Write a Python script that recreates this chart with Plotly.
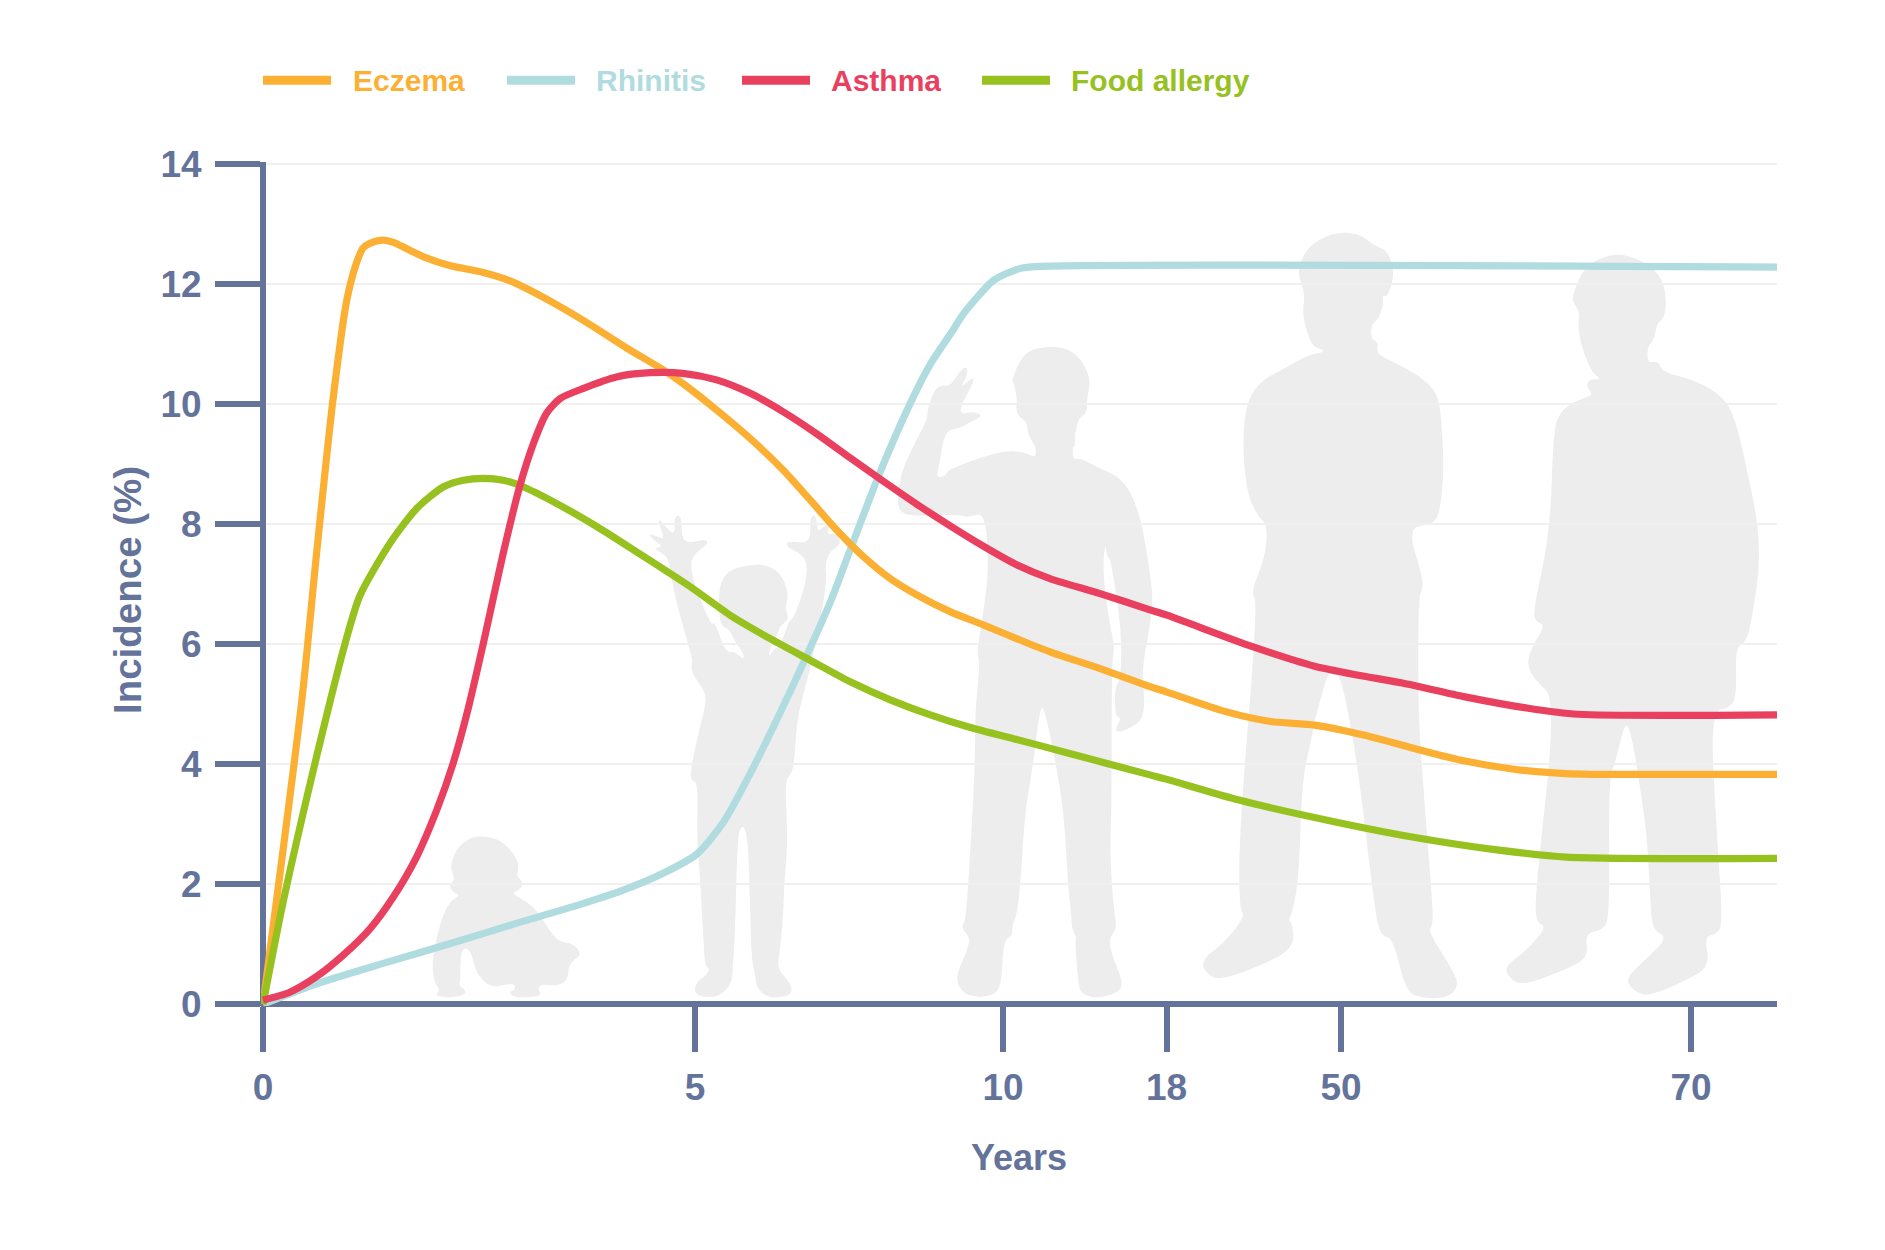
# Incidence of allergic disease by age, drawn on a stretched age axis
import numpy as np
import plotly.graph_objects as go

tick_years = [0, 5, 10, 18, 50, 70, 75]
tick_pos = [0, 432, 740, 903.5, 1078, 1428, 1514]  # axis is not linear in years
y_ticks = [0, 2, 4, 6, 8, 10, 12, 14]

eczema_age = [0, 0.45, 0.62, 0.81, 0.97, 1.08, 1.16, 1.28, 1.39, 1.51, 1.86, 2.17, 2.55, 2.86, 3.24, 3.71, 4.21, 4.63,
              4.86, 5.35, 5.89, 6.43, 6.87, 7.30, 7.73, 8.17, 8.60, 9.14, 9.68, 10.67, 12.30, 14.75, 17.19, 18.09,
              29.02, 37.09, 45.16, 51.36, 54.57, 57.09, 59.98, 62.85, 64.29, 75]
eczema = [0, 5.07, 7.51, 10.07, 11.73, 12.34, 12.6, 12.7, 12.73, 12.69, 12.45, 12.3, 12.19, 12.05, 11.78, 11.39, 10.93, 10.57,
          10.34, 9.9, 9.43, 8.9, 8.4, 7.9, 7.46, 7.09, 6.82, 6.54, 6.32, 6.09, 5.87, 5.59, 5.29, 5.2,
          4.87, 4.71, 4.65, 4.48, 4.23, 4.05, 3.91, 3.84, 3.83, 3.83]

rhinitis_age = [0, 0.62, 1.39, 2.17, 2.94, 3.71, 4.17, 4.63, 5.03, 5.46, 5.95, 6.38, 6.81, 7.19, 7.52, 8.00, 8.49, 8.83,
                9.19, 9.35, 9.85, 10.78, 11.71, 75]
rhinitis = [0, 0.34, 0.68, 1.01, 1.35, 1.68, 1.9, 2.18, 2.5, 3.03, 3.95, 4.85, 5.8, 6.68, 7.57, 8.85, 10.0, 10.68,
            11.23, 11.49, 12.06, 12.25, 12.29, 12.28]

asthma_age = [0, 0.31, 0.62, 0.93, 1.24, 1.51, 1.78, 2.01, 2.20, 2.36, 2.55, 2.78, 2.97, 3.13, 3.28, 3.44, 3.71, 4.09,
              4.48, 4.86, 5.35, 5.89, 6.43, 6.98, 7.52, 8.06, 8.60, 9.14, 9.68, 10.67, 12.30, 14.75, 17.19, 18.09,
              33.64, 45.16, 51.0, 53.51, 57.09, 60.69, 63.55, 75]
asthma = [0.07, 0.2, 0.46, 0.82, 1.26, 1.79, 2.46, 3.23, 4.01, 4.84, 6.01, 7.51, 8.62, 9.34, 9.84, 10.09, 10.26, 10.45,
          10.52, 10.51, 10.4, 10.18, 9.87, 9.5, 9.1, 8.71, 8.33, 7.97, 7.63, 7.32, 7.09, 6.84, 6.57, 6.48,
          5.96, 5.63, 5.48, 5.35, 5.12, 4.93, 4.83, 4.82]

food_age = [0, 0.23, 0.51, 0.76, 0.95, 1.12, 1.47, 1.78, 2.09, 2.32, 2.55, 2.78, 3.01, 3.40, 3.86, 4.33, 4.94, 5.57,
            6.22, 6.87, 7.52, 8.17, 8.82, 9.47, 10.67, 13.12, 17.19, 18.09, 31.3, 49.82, 54.57, 58.91, 62.86, 75]
food = [0, 1.68, 3.46, 4.95, 6.01, 6.8, 7.68, 8.26, 8.62, 8.73, 8.76, 8.73, 8.62, 8.34, 7.96, 7.53, 6.96, 6.48,
        6.09, 5.73, 5.37, 5.07, 4.82, 4.61, 4.41, 4.19, 3.82, 3.745, 3.4, 3.02, 2.76, 2.57, 2.45, 2.43]

SLATE = "#64739A"
ORANGE = "#FBB034"
TEAL = "#B0DCE0"
RED = "#EA405F"
GREEN = "#96C11F"
FONT = "Liberation Sans"

# plot box in page pixels, a hair bigger than 0..14 so the zero lines get drawn as the axes
LEFT, RIGHT, TOP, BOTTOM = 261, 1777, 162.2, 1005.8


def paper(x, y):
    return (x - LEFT) / (RIGHT - LEFT), (BOTTOM - y) / (BOTTOM - TOP)


def outline(pts, x0, y0, sx, sy):
    # closed smoothed outline through the midpoints of a traced polygon, as a paper-ref path
    p = [paper(x0 + x / sx, y0 + y / sy) for x, y in pts]
    mid = lambda a, b: ((a[0] + b[0]) / 2, (a[1] + b[1]) / 2)
    start = mid(p[-1], p[0])
    d = f"M{start[0]:.5f},{start[1]:.5f}"
    for i, pt in enumerate(p):
        m = mid(pt, p[(i + 1) % len(p)])
        d += f" Q{pt[0]:.5f},{pt[1]:.5f} {m[0]:.5f},{m[1]:.5f}"
    return d + " Z"


baby = [(180,47),(230,55),(270,85),(295,125),(295,150),(290,170),(305,180),(308,195),(295,212),(278,218),(285,225),
        (320,245),(350,270),(375,310),(395,340),(420,365),(460,370),(485,403),(460,420),(445,440),(445,470),(430,490),
        (400,497),(365,492),(353,505),(365,525),(340,530),(285,532),(265,515),(285,510),(285,490),(250,495),(215,500),
        (185,480),(165,445),(150,385),(125,385),(120,440),(122,480),(115,495),(143,515),(120,530),(70,532),(45,525),
        (60,510),(45,490),(37,450),(40,400),(55,330),(75,270),(95,240),(120,225),(105,220),(90,205),(90,190),(105,180),
        (95,155),(93,130),(110,85),(145,55)]

child = [(25,100),(50,108),(75,120),(55,65),(60,58),(80,85),(105,105),(103,55),(113,45),(125,55),(125,110),(140,127),
         (165,125),(195,118),(205,128),(190,142),(170,155),(150,185),(160,240),(185,310),(215,375),(218,368),(228,375),
         (250,440),(265,457),(285,455),(312,480),(310,458),(285,425),(268,388),(245,378),(237,345),(237,270),(250,230),
         (280,205),(330,195),(370,193),(410,210),(435,245),(445,290),(435,325),(445,345),(440,365),(420,378),(412,405),
         (390,445),(385,473),(400,450),(420,435),(440,385),(447,363),(460,355),(485,290),(500,230),(500,185),(480,160),
         (440,140),(440,125),(470,125),(495,128),(512,110),(510,60),(520,42),(530,55),(533,98),(555,75),(570,70),(560,105),
         (580,100),(597,105),(600,135),(575,150),(555,185),(560,240),(545,340),(510,510),(485,600),(470,670),(462,800),
         (450,825),(435,845),(442,1000),(440,1070),(432,1160),(430,1240),(420,1350),(412,1405),(440,1435),(457,1465),
         (450,1485),(420,1492),(385,1492),(350,1465),(345,1420),(335,1380),(330,1220),(325,1040),(315,985),(305,978),
         (295,1000),(290,1100),(285,1300),(278,1405),(275,1450),(240,1488),(200,1492),(170,1485),(163,1465),(175,1440),
         (195,1430),(210,1405),(195,1400),(190,1310),(180,1130),(170,1000),(175,850),(150,840),(155,790),(180,680),
         (200,600),(190,565),(155,520),(155,490),(158,480),(135,400),(105,290),(92,220),(85,175),(60,155),(42,145),
         (70,140),(40,120)]

teen = [(140,205),(145,175),(165,135),(190,127),(210,130),(245,90),(262,85),(262,105),(240,135),(280,108),(282,120),
        (240,178),(245,195),(275,188),(305,195),(295,205),(270,212),(245,225),(195,232),(180,300),(168,343),(198,335),
        (205,322),(300,295),(370,280),(420,280),(455,290),(465,293),(470,272),(445,245),(440,210),(415,200),(408,180),
        (412,170),(405,130),(395,115),(420,70),(450,45),(510,38),(560,42),(600,65),(625,100),(630,125),(620,165),(622,180),
        (615,195),(595,205),(585,240),(585,268),(577,270),(580,300),(600,295),(660,320),(710,335),(750,370),(780,430),
        (795,488),(810,560),(820,630),(805,700),(785,790),(795,860),(785,900),(750,918),(715,928),(705,920),(725,895),
        (705,890),(705,820),(722,808),(725,700),(705,590),(690,525),(680,522),(677,490),(668,540),(680,640),(705,735),
        (695,760),(695,1100),(690,1180),(695,1280),(705,1355),(710,1380),(685,1405),(700,1450),(725,1495),(725,1520),
        (690,1535),(640,1540),(605,1530),(595,1510),(585,1410),(590,1400),(575,1380),(575,1355),(565,1290),(555,1150),
        (540,1050),(495,875),(480,868),(460,1000),(435,1110),(420,1290),(410,1350),(395,1375),(398,1395),(370,1410),
        (365,1500),(350,1530),(300,1540),(250,1530),(228,1500),(240,1465),(262,1430),(270,1400),(250,1385),(247,1372),
        (258,1360),(275,1150),(285,1000),(285,880),(300,768),(292,750),(295,720),(320,600),(325,530),(315,420),(260,433),
        (240,425),(100,430),(60,420),(52,395),(60,340),(85,290),(138,212)]

adult = [(635,115),(650,80),(690,57),(730,58),(752,78),(775,88),(785,115),(785,140),(775,170),(768,165),(770,185),(760,210),
         (750,218),(750,243),(762,248),(758,268),(790,285),(825,305),(855,335),(862,380),(866,470),(860,540),(850,565),
         (808,570),(830,650),(833,675),(825,695),(825,900),(835,1050),(848,1230),(848,1265),(840,1272),(885,1350),(888,1372),
         (870,1390),(830,1390),(805,1378),(785,1285),(765,1282),(755,1230),(725,950),(692,785),(660,905),(655,940),(640,1010),
         (635,1180),(625,1240),(618,1255),(625,1260),(627,1305),(560,1340),(510,1358),(490,1350),(478,1325),(520,1290),
         (550,1245),(540,1235),(540,1100),(570,700),(558,685),(582,620),(585,565),(570,552),(552,510),(545,420),(552,350),
         (575,315),(610,295),(650,270),(675,265),(672,260),(655,255),(640,200),(645,165),(635,135)]

old_man = [(1070,170),(1085,125),(1110,103),(1145,93),(1180,105),(1210,130),(1220,165),(1218,205),(1205,215),(1200,245),
           (1190,255),(1190,285),(1208,280),(1212,300),(1260,312),(1300,335),(1325,365),(1345,450),(1373,605),(1355,740),
           (1345,772),(1330,780),(1332,860),(1322,885),(1290,890),(1300,1100),(1310,1260),(1300,1278),(1280,1283),(1290,1335),
           (1250,1360),(1190,1388),(1165,1375),(1155,1355),(1190,1320),(1222,1285),(1200,1272),(1195,1240),(1190,1110),
           (1175,1000),(1165,935),(1155,905),(1140,975),(1128,1010),(1130,1250),(1118,1272),(1090,1277),(1097,1320),(1050,1345),
           (990,1368),(970,1355),(962,1335),(1000,1305),(1030,1265),(1012,1258),(1012,1200),(1045,870),(1010,835),(998,810),
           (1005,780),(1028,740),(1012,735),(1008,715),(1035,580),(1040,405),(1050,370),(1075,350),(1105,340),(1092,325),
           (1098,312),(1118,313),(1100,300),(1082,245),(1080,215),(1082,195),(1072,180)]

figures = [
    outline(baby, 420, 820, 3, 3),
    outline(child, 640, 500, 3, 3),
    outline(teen, 880, 330, 3, 2.306),
    outline(adult, 900, 200, 1.592, 1.742),
    outline(old_man, 900, 200, 1.592, 1.742),
]


def stretch(age):
    return np.interp(age, tick_years, tick_pos)


fig = go.Figure()
# drawn back to front
series = [
    (rhinitis_age, rhinitis, TEAL),
    (eczema_age, eczema, ORANGE),
    (food_age, food, GREEN),
    (asthma_age, asthma, RED),
]
for age, vals, color in series:
    fig.add_trace(go.Scatter(
        x=stretch(age), y=vals, mode="lines", cliponaxis=False, showlegend=False,
        line=dict(color=color, width=7.2, shape="spline", smoothing=0.7),
        hoverinfo="skip",
    ))

for path in figures:
    fig.add_shape(type="path", path=path, xref="paper", yref="paper", layer="below",
                  fillcolor="#EDEDED", line=dict(width=0))

# key across the top: swatch start, label start
key = [("Eczema", ORANGE, 263, 351), ("Rhinitis", TEAL, 507, 594),
       ("Asthma", RED, 742, 829), ("Food allergy", GREEN, 982, 1069)]
for name, color, x_line, x_text in key:
    x0, yk = paper(x_line, 80.5)
    x1, _ = paper(x_line + 68, 80.5)
    fig.add_shape(type="line", xref="paper", yref="paper", x0=x0, x1=x1, y0=yk, y1=yk,
                  line=dict(color=color, width=9))
    xt, _ = paper(x_text, 80.5)
    fig.add_annotation(text=name, xref="paper", yref="paper", x=xt, y=yk, xanchor="left", yanchor="middle",
                       showarrow=False, font=dict(size=30, family=FONT, color=color, weight=700))

# y title sits a little below the middle of the axis in the original
xt, yt = paper(127, 590)
fig.add_annotation(text="Incidence (%)", xref="paper", yref="paper", x=xt, y=yt, xanchor="center", yanchor="middle",
                   textangle=-90, showarrow=False, font=dict(size=38.5, family=FONT, color=SLATE, weight=700))

fig.update_layout(
    width=1885, height=1250,
    margin=dict(l=LEFT, r=1885 - RIGHT, t=TOP, b=1250 - BOTTOM, autoexpand=False),
    paper_bgcolor="white", plot_bgcolor="white",
    font=dict(family=FONT, color=SLATE, size=36, weight=700),
    showlegend=False,
)
fig.update_xaxes(
    range=[-2, tick_pos[-1]], tickvals=tick_pos[:-1], ticktext=[str(v) for v in tick_years[:-1]],
    showgrid=False, zeroline=True, zerolinecolor=SLATE, zerolinewidth=6, showline=False,
    ticks="outside", ticklen=45, tickwidth=5.5, tickcolor=SLATE, ticklabelstandoff=4,
    tickfont=dict(size=37, family=FONT, color=SLATE, weight=700),
    title=dict(text="Years", standoff=37, font=dict(size=36, family=FONT, color=SLATE, weight=700)),
)
fig.update_yaxes(
    range=[-0.03, 14.03], tickvals=y_ticks, showgrid=True, gridcolor="#F0F0F0", gridwidth=1.7,
    zeroline=True, zerolinecolor=SLATE, zerolinewidth=6, showline=False,
    ticks="outside", ticklen=45, tickwidth=5.5, tickcolor=SLATE, ticklabelstandoff=6,
    tickfont=dict(size=37, family=FONT, color=SLATE, weight=700),
)

fig.write_html("out.html", config={"displayModeBar": False}, post_script="document.body.style.margin='0'")
